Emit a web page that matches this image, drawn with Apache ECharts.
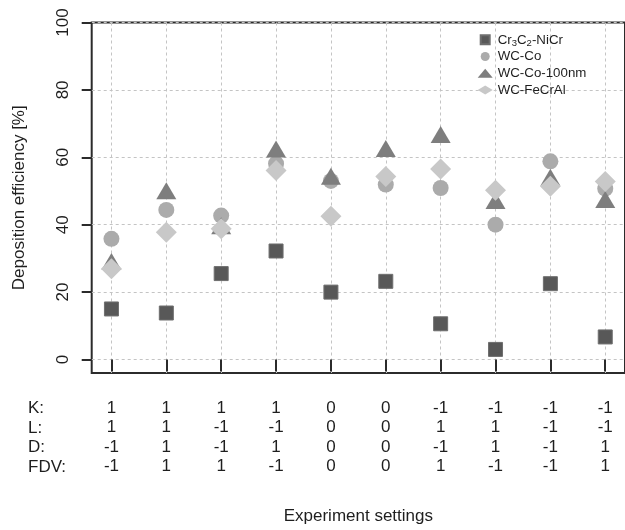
<!DOCTYPE html>
<html><head><meta charset="utf-8">
<script src="https://cdn.jsdelivr.net/npm/echarts@6/dist/echarts.min.js"></script>
<style>html,body{margin:0;padding:0;background:#fff}#c{width:625px;height:530px}</style>
</head><body><div id="c"></div>
<script>
// ---- data ----
const experiments = [1, 2, 3, 4, 5, 6, 7, 8, 9, 10];
const settingK   = ['1', '1', '1', '1', '0', '0', '-1', '-1', '-1', '-1'];
const settingL   = ['1', '1', '-1', '-1', '0', '0', '1', '1', '-1', '-1'];
const settingD   = ['-1', '1', '-1', '1', '0', '0', '-1', '1', '-1', '1'];
const settingFDV = ['-1', '1', '1', '-1', '0', '0', '1', '-1', '-1', '1'];
const settingNames = ['K:', 'L:', 'D:', 'FDV:'];
const yTicks = [0, 20, 40, 60, 80, 100];
const seriesNames = ['Cr3C2-NiCr', 'WC-Co', 'WC-Co-100nm', 'WC-FeCrAl'];
const cr3c2NiCr = [15.0, 13.8, 25.5, 32.2, 20.0, 23.2, 10.6, 3.0, 22.5, 6.7];
const wcCo      = [35.8, 44.4, 42.7, 58.1, 53.0, 51.9, 50.9, 40.0, 58.8, 50.7];
const wcCo100nm = [28.2, 49.2, 38.8, 61.6, 53.5, 61.7, 65.9, 46.3, 53.2, 46.6];
const wcFeCrAl  = [26.9, 37.8, 38.8, 56.1, 42.5, 54.3, 56.5, 50.2, 51.4, 52.8];

const FONT = '"Liberation Sans", Arial, Helvetica, sans-serif';
const TXT = '#1e1e1e';
const pairs = vals => experiments.map((x, i) => [x, vals[i]]);

const chart = echarts.init(document.getElementById('c'), null, {renderer: 'canvas'});
const legendRich = {
  n: {fontSize: 13.3, lineHeight: 16.7, fontFamily: FONT, color: TXT},
  s: {fontSize: 9.5, lineHeight: 10, verticalAlign: 'bottom', fontFamily: FONT, color: TXT}
};
chart.setOption({
  animation: false,
  backgroundColor: '#fff',
  textStyle: {fontFamily: FONT, color: TXT},
  grid: {
    left: 91.7, top: 22.5, width: 535.6, height: 351,
    show: true, borderColor: '#2b2b2b', borderWidth: 2, backgroundColor: 'transparent',
    containLabel: false
  },
  legend: {
    orient: 'vertical', left: 472.7, top: 26.5,
    itemWidth: 15, itemHeight: 9, itemGap: 0,
    data: [
      {name: seriesNames[0], icon: 'path://M0 0H10V10H0Z'},
      {name: seriesNames[1]},
      {name: seriesNames[2]},
      {name: seriesNames[3]}
    ],
    textStyle: {rich: legendRich, fontFamily: FONT, fontSize: 13.3, lineHeight: 16.7, color: TXT},
    formatter: name => name === 'Cr3C2-NiCr'
      ? '{n|Cr}{s|3}{n|C}{s|2}{n|-NiCr}'
      : '{n|' + name + '}'
  },
  xAxis: {
    type: 'value', min: 0.64, max: 10.36,
    axisLine: {show: false},
    axisTick: {show: true, customValues: experiments, length: 12, lineStyle: {color: '#2b2b2b', width: 2}},
    splitLine: {show: true, lineStyle: {color: '#c4c4c4', width: 1, type: [3, 3]}},
    axisLabel: {
      customValues: experiments, margin: 25.5, fontSize: 17, lineHeight: 19.4, color: TXT, fontFamily: FONT,
      formatter: v => {
        const i = experiments.indexOf(v);
        return [settingK[i], settingL[i], settingD[i], settingFDV[i]].join('\n');
      }
    },
    name: 'Experiment settings', nameLocation: 'middle', nameGap: 135,
    nameTextStyle: {fontSize: 17, color: TXT, fontFamily: FONT}
  },
  yAxis: {
    type: 'value', min: -4, max: 100,
    axisLine: {show: false},
    axisTick: {show: true, customValues: yTicks, length: 10, lineStyle: {color: '#2b2b2b', width: 2}},
    splitLine: {show: true, lineStyle: {color: '#c4c4c4', width: 1, type: [3, 3]}},
    axisLabel: {customValues: yTicks, rotate: 90, margin: 20, fontSize: 17, color: TXT, fontFamily: FONT},
    name: 'Deposition efficiency [%]', nameLocation: 'middle', nameGap: 64,
    nameTextStyle: {fontSize: 17, color: TXT, fontFamily: FONT}
  },
  graphic: [{
    type: 'text', left: 28, top: 399, silent: true,
    style: {text: settingNames.join('\n'), fontSize: 17, lineHeight: 19.4, fill: TXT, font: '17px ' + FONT}
  }],
  series: [
    {name: seriesNames[0], type: 'scatter', symbol: 'rect', symbolSize: 14, z: 2,
     itemStyle: {color: '#585858', borderColor: '#6e6e6e', borderWidth: 1, opacity: 1}, data: pairs(cr3c2NiCr)},
    {name: seriesNames[1], type: 'scatter', symbol: 'circle', symbolSize: 16, z: 3,
     itemStyle: {color: '#ababab', opacity: 1}, data: pairs(wcCo)},
    {name: seriesNames[2], type: 'scatter', symbol: 'triangle', symbolSize: [20, 17], symbolOffset: [0, -3], z: 4,
     itemStyle: {color: '#7e7e7e', opacity: 1}, data: pairs(wcCo100nm)},
    {name: seriesNames[3], type: 'scatter', symbol: 'diamond', symbolSize: [21, 21], z: 5,
     itemStyle: {color: '#c8c8c8', opacity: 1}, data: pairs(wcFeCrAl)}
  ]
});
</script>
</body></html>
